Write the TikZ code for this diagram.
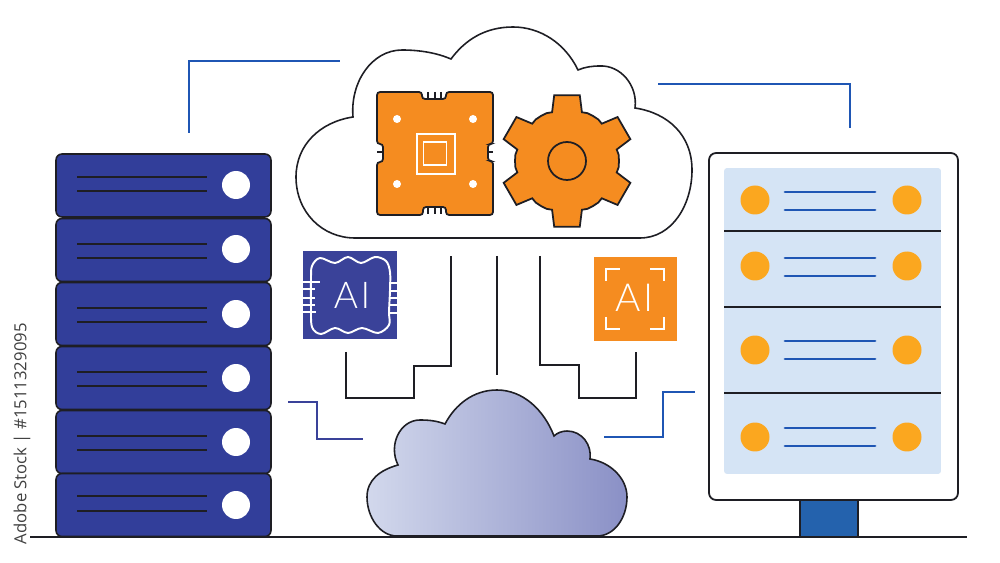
\documentclass[tikz,border=0pt]{standalone}
\usepackage{fontspec}
\usepackage{tikz}
\usetikzlibrary{arrows.meta, positioning}
\setsansfont{Open Sans}
\newfontfamily\ailabel[UprightFont=* Light]{Lato}
\definecolor{racknavy}{HTML}{323E9A}
\definecolor{chipnavy}{HTML}{3A4299}
\definecolor{chiporange}{HTML}{F58C20}
\definecolor{panelblue}{HTML}{D5E4F5}
\definecolor{ledorange}{HTML}{FBA71F}
\definecolor{barblue}{HTML}{1F56B4}
\definecolor{standblue}{HTML}{2462AD}
\definecolor{cloudlight}{HTML}{D2D8EC}
\definecolor{clouddark}{HTML}{8A90C6}
\definecolor{outline}{HTML}{1E1E24}

\begin{document}
\begin{tikzpicture}[
            x=0.02cm, y=-0.02cm,
            rackunit/.style={rectangle, minimum width=4.3cm, minimum height=1.26cm, inner sep=0pt, draw=outline, line width=0.9pt, fill=racknavy, rounded corners=0.12cm},
            whiteled/.style={circle, minimum size=0.56cm, inner sep=0pt, fill=white},
            amberled/.style={circle, minimum size=0.58cm, inner sep=0pt, fill=ledorange},
            rackline/.style={line width=1pt, draw=outline},
            barline/.style={line width=1.7pt, draw=barblue, line cap=round},
            wire/.style={line width=1.2pt, draw=outline},
            bluewire/.style={line width=1.2pt, draw=barblue},
            cloudline/.style={line width=0.9pt, draw=outline},
            chipbody/.style={line width=1pt, draw=outline, fill=chiporange},
            whitedot/.style={circle, minimum size=0.16cm, inner sep=0pt, fill=white},
            whitebox/.style={rectangle, inner sep=0pt, draw=white, line width=1.1pt},
            pin/.style={line width=1pt, draw=white},
            tick/.style={line width=1pt, draw=outline}
            ]

            \useasboundingbox (0,0) rectangle (1000,563);

            \foreach \n/\cy/\la/\lb/\ly in {1/185.5/177/191/185, 2/250/244/258/249, 3/314/308/322/314, 4/378/372/386/378, 5/442/436/450/442, 6/505/496/511/505}{
                \node (rack\n) [rackunit] at (163.5,\cy) {};
                \node (led\n) [whiteled] at (236,\ly) {};
                \draw [rackline] (77,\la) -- (207,\la);
                \draw [rackline] (77,\lb) -- (207,\lb);
            }

            \node (stand) [rectangle, minimum width=1.16cm, minimum height=0.74cm, inner sep=0pt, draw=outline, line width=0.8pt, fill=standblue] at (829,518) {};
            \node (panel) [rectangle, minimum width=4.98cm, minimum height=6.94cm, inner sep=0pt, draw=outline, line width=1pt, fill=white, rounded corners=0.14cm] at (833.5,326.5) {};
            \node (screen) [rectangle, minimum width=4.34cm, minimum height=6.12cm, inner sep=0pt, fill=panelblue, rounded corners=0.06cm] at (832.5,321) {};
            \foreach \dy in {231,307,393}{
                \draw [line width=1pt, draw=outline] (724,\dy) -- (941,\dy);
            }
            \foreach \n/\cy/\la/\lb in {1/200/192/210, 2/266/258/276, 3/350/341/359, 4/437/428/446}{
                \node (ledl\n) [amberled] at (755,\cy) {};
                \node (ledr\n) [amberled] at (907,\cy) {};
                \draw [barline] (785,\la) -- (875,\la);
                \draw [barline] (785,\lb) -- (875,\lb);
            }

            \coordinate (groundl) at (30,537);
            \coordinate (groundr) at (967,537);
            \draw [line width=1pt, draw=outline] (groundl) -- (groundr);

            \draw [cloudline, fill=white] (355,238) -- (640,238)
                .. controls (672,238) and (692,205) .. (692,170)
                .. controls (692,135) and (668,113) .. (635,108)
                .. controls (638,85) and (620,65) .. (600,66)
                .. controls (592,66) and (585,67) .. (578,70)
                .. controls (565,43) and (540,27) .. (513,27)
                .. controls (485,27) and (465,40) .. (451,59)
                .. controls (437,53) and (420,50) .. (402,50)
                .. controls (372,50) and (350,82) .. (353,117)
                .. controls (320,122) and (296,145) .. (296,177)
                .. controls (296,212) and (322,238) .. (355,238) -- cycle;

            \draw [cloudline, left color=cloudlight, right color=clouddark] (397,536) -- (597,536)
                .. controls (615,536) and (627,517) .. (627,497)
                .. controls (627,478) and (610,462) .. (590,459)
                .. controls (592,445) and (582,431) .. (567,431)
                .. controls (562,431) and (557,433) .. (554,436)
                .. controls (544,410) and (523,390) .. (497,390)
                .. controls (473,390) and (455,405) .. (445,424)
                .. controls (437,421) and (430,420) .. (420,420)
                .. controls (400,420) and (388,445) .. (398,465)
                .. controls (380,470) and (367,480) .. (367,497)
                .. controls (367,517) and (380,536) .. (397,536) -- cycle;

            \draw [chipbody, rounded corners=0.06cm] (377,92) -- (422,92) -- (422,99) -- (446,99) -- (446,92) -- (493,92)
                -- (493,144) -- (488,144) -- (488,161) -- (493,161) -- (493,215)
                -- (446,215) -- (446,207) -- (423,207) -- (423,215) -- (377,215)
                -- (377,162) -- (383,162) -- (383,144) -- (377,144) -- cycle;
            \foreach \tx in {428,435,441}{
                \draw [tick] (\tx,92) -- (\tx,99);
                \draw [tick] (\tx,207) -- (\tx,214);
            }
            \draw [tick] (377,152) -- (383,152);
            \draw [tick] (488,152) -- (493,152);
            \node (dotnw) [whitedot] at (397,119) {};
            \node (dotne) [whitedot] at (473,119) {};
            \node (dotsw) [whitedot] at (397,184) {};
            \node (dotse) [whitedot] at (473,184) {};
            \node (coreouter) [whitebox, minimum width=0.76cm, minimum height=0.8cm] at (436,154) {};
            \node (coreinner) [whitebox, minimum width=0.46cm, minimum height=0.46cm] at (435,153.5) {};

            \begin{scope}[shift={(567,161)}]
                \draw [chipbody] (13:51) \foreach \a in {30,90,...,330}{
                    -- (\a-17:51) -- (\a-11:67) -- (\a+11:67) -- (\a+17:51) -- (\a+23:52) -- (\a+30:52) -- (\a+37:52)
                } -- cycle;
                \node (gearhub) [circle, minimum size=0.76cm, inner sep=0pt, draw=outline, line width=1pt] at (0,0) {};
            \end{scope}

            \node (aichip) [rectangle, minimum width=1.88cm, minimum height=1.76cm, inner sep=0pt, fill=chipnavy] at (350,295) {};
            \draw [pin, line width=1.1pt] plot [smooth cycle, tension=0.55] coordinates {(311,280) (312,266) (320,258) (335,263) (348,257) (361,263) (375,257) (386,261) (390,272) (390,290) (389,312) (389,325) (378,333) (362,328) (348,333) (335,328) (321,334) (312,327) (311,305)};
            \draw [pin] (303,282) -- (320,282);
            \foreach \py in {289,298,305}{
                \draw [pin] (303,\py) -- (315,\py);
            }
            \draw [pin] (303,312) -- (316,312);
            \foreach \py in {283,291,298,305,313}{
                \draw [pin] (389,\py) -- (397,\py);
            }
            \node (aitextl) [text=white, inner sep=0pt, font=\ailabel\fontsize{21pt}{21pt}\selectfont] at (352,295) {A\kern1.5pt I};

            \node (aiframe) [rectangle, minimum width=1.66cm, minimum height=1.68cm, inner sep=0pt, fill=chiporange] at (635.5,299) {};
            \draw [pin, line width=1.2pt] (606,281) -- (606,269) -- (620,269);
            \draw [pin, line width=1.2pt] (650,269) -- (664,269) -- (664,281);
            \draw [pin, line width=1.2pt] (606,317) -- (606,329) -- (620,329);
            \draw [pin, line width=1.2pt] (650,329) -- (664,329) -- (664,317);
            \node (aitextr) [text=white, inner sep=0pt, font=\ailabel\fontsize{22pt}{22pt}\selectfont] at (634.5,298) {A\kern1.5pt I};

            \coordinate (wirela) at (346,352);
            \coordinate (wirelb) at (451,256);
            \coordinate (wireca) at (497,256);
            \coordinate (wirecb) at (497,375);
            \coordinate (wirera) at (540,256);
            \coordinate (wirerb) at (636,352);
            \draw [wire] (wirela) |- (414,398) |- (wirelb |- 0,366) -- (wirelb);
            \draw [wire, line width=1pt] (wireca) -- (wirecb);
            \draw [wire] (wirera) |- (579,365) |- (wirerb |- 0,398) -- (wirerb);

            \coordinate (linkna) at (189,133);
            \coordinate (linknb) at (340,61);
            \coordinate (linkea) at (658,84);
            \coordinate (linkeb) at (850,128);
            \coordinate (linkwa) at (288,402);
            \coordinate (linkwb) at (363,439);
            \coordinate (linksa) at (604,437);
            \coordinate (linksb) at (695,392);
            \draw [bluewire] (linkna) |- (linknb);
            \draw [bluewire] (linkea) -| (linkeb);
            \draw [bluewire, draw=chipnavy] (linkwa) -| (317,439) -- (linkwb);
            \draw [bluewire, line width=1.4pt] (linksa) -| (663,392) -- (linksb);

            \node (stockid) [rotate=90, anchor=east, inner sep=0pt, text=black!75, font=\sffamily\fontsize{9.5pt}{9.5pt}\selectfont] at (22,323) {Adobe Stock | \#1511329095};
\end{tikzpicture}
\end{document}
